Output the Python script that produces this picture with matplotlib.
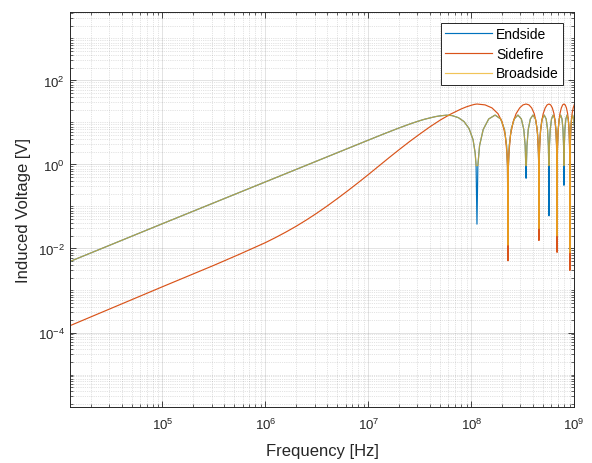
import numpy as np
import matplotlib
matplotlib.use("Agg")
import matplotlib.pyplot as plt
from matplotlib.ticker import LogLocator, NullFormatter

plt.rcParams['font.family'] = ['Liberation Sans', 'DejaVu Sans']

# frequency grid (MHz) shared by Endside / Broadside
es_freq_mhz = [
    0.0126, 0.1, 1, 10, 14, 20, 25, 30, 35, 40, 45, 50, 57.5, 65, 75, 85, 95, 104, 109, 111.3,
    113.5, 115.8, 120.3, 130.5, 147.6, 170.3, 193.0, 210.0, 220.2, 224.7,
    227.0, 229.3, 233.8, 244.0, 261.1, 283.8, 306.5, 323.5, 333.7, 338.2,
    340.5, 342.8, 347.3, 357.5, 374.6, 397.3, 420.0, 437.0, 447.2, 451.7,
    454.0, 456.3, 460.8, 471.0, 488.1, 510.8, 533.5, 550.5, 560.7, 565.2,
    567.5, 569.8, 574.3, 584.5, 601.6, 624.3, 647.0, 664.0, 674.2, 678.7,
    681.0, 683.3, 687.8, 698.0, 715.1, 737.8, 760.5, 777.5, 787.7, 792.2,
    794.5, 796.8, 801.3, 811.5, 828.6, 851.3, 874.0, 891.0, 901.2, 905.7,
    908.0, 910.3, 914.8, 925.0, 942.1, 964.8, 987.5, 1000.0,
]
endside_v = [
    4.9e-3, 3.9e-2, 0.385, 3.80, 5.3, 7.45, 9.1, 10.6, 11.9, 12.9, 13.8, 14.4, 14.9, 14.6, 13.0, 10.5, 7.2, 3.9, 1.88, 0.94,
    0.038, 0.94, 2.81, 6.81, 12.1, 15.0, 12.1, 6.81, 2.81, 0.94,
    0.012, 0.94, 2.81, 6.81, 12.1, 15.0, 12.1, 6.81, 2.81, 0.94,
    0.47, 0.94, 2.81, 6.81, 12.1, 15.0, 12.1, 6.81, 2.81, 0.94,
    0.03, 0.94, 2.81, 6.81, 12.1, 15.0, 12.1, 6.81, 2.81, 0.94,
    0.06, 0.94, 2.81, 6.81, 12.1, 15.0, 12.1, 6.81, 2.81, 0.94,
    0.02, 0.94, 2.81, 6.81, 12.1, 15.0, 12.1, 6.81, 2.81, 0.94,
    0.32, 0.94, 2.81, 6.81, 12.1, 15.0, 12.1, 6.81, 2.81, 0.94,
    0.008, 0.94, 2.81, 6.81, 12.1, 15.0, 12.1, 8.43,
]
broadside_v = [
    4.9e-3, 3.9e-2, 0.385, 3.80, 5.3, 7.45, 9.1, 10.6, 11.9, 12.9, 13.8, 14.4, 14.9, 14.6, 13.0, 10.5, 7.2, 3.9, 1.88, 0.94,
    0.94, 0.94, 2.81, 6.81, 12.1, 15.0, 12.1, 6.81, 2.81, 0.94,
    0.012, 0.94, 2.81, 6.81, 12.1, 15.0, 12.1, 6.81, 2.81, 0.94,
    0.94, 0.94, 2.81, 6.81, 12.1, 15.0, 12.1, 6.81, 2.81, 0.94,
    0.03, 0.94, 2.81, 6.81, 12.1, 15.0, 12.1, 6.81, 2.81, 0.94,
    0.94, 0.94, 2.81, 6.81, 12.1, 15.0, 12.1, 6.81, 2.81, 0.94,
    0.02, 0.94, 2.81, 6.81, 12.1, 15.0, 12.1, 6.81, 2.81, 0.94,
    0.94, 0.94, 2.81, 6.81, 12.1, 15.0, 12.1, 6.81, 2.81, 0.94,
    0.008, 0.94, 2.81, 6.81, 12.1, 15.0, 12.1, 8.43,
]

sf_freq_mhz = [
    0.0126, 0.1, 0.316, 0.562, 1.0, 1.259, 1.585, 1.995, 2.512, 3.162, 3.981, 5.012, 6.310, 7.943,
    10.0, 12.59, 15.85, 19.95, 25.12, 31.62, 39.81, 50.12, 63.10, 79.43, 89.13, 100.0, 107.2, 113.5,
    136.2, 158.9, 181.6, 198.6, 213.4, 222.5, 224.7, 227.0, 229.3, 231.5, 240.6, 255.4, 272.4, 295.1, 317.8,
    340.5, 363.2, 385.9, 408.6, 425.6, 440.4, 449.5, 451.7, 454.0, 456.3, 458.5, 467.6, 482.4, 499.4, 522.1, 544.8,
    567.5, 590.2, 612.9, 635.6, 652.6, 667.4, 676.5, 678.7, 681.0, 683.3, 685.5, 694.6, 709.4, 726.4, 749.1, 771.8,
    794.5, 817.2, 839.9, 862.6, 879.6, 894.4, 903.5, 905.7, 908.0, 910.3, 912.5, 921.6, 936.4, 953.4, 976.1, 1000.0,
]
sidefire_v = [
    1.45e-4, 1.23e-3, 3.98e-3, 7.33e-3, 0.0138, 0.0183, 0.0247, 0.0340, 0.0481, 0.0695, 0.1028, 0.155, 0.237, 0.367,
    0.575, 0.912, 1.445, 2.265, 3.51, 5.31, 7.94, 11.48, 15.85, 20.89, 23.44, 25.70, 26.92, 27.5,
    26.2, 22.2, 16.2, 10.5, 5.16, 1.73, 0.864, 0.0051, 0.864, 1.73, 5.16, 10.5, 16.2, 22.2, 26.2,
    27.5, 26.2, 22.2, 16.2, 10.5, 5.16, 1.73, 0.864, 0.0155, 0.864, 1.73, 5.16, 10.5, 16.2, 22.2, 26.2,
    27.5, 26.2, 22.2, 16.2, 10.5, 5.16, 1.73, 0.864, 0.0081, 0.864, 1.73, 5.16, 10.5, 16.2, 22.2, 26.2,
    27.5, 26.2, 22.2, 16.2, 10.5, 5.16, 1.73, 0.864, 0.0030, 0.864, 1.73, 5.16, 10.5, 16.2, 22.2, 26.4,
]

es_freq = np.array(es_freq_mhz) * 1e6
sf_freq = np.array(sf_freq_mhz) * 1e6

fig = plt.figure(figsize=(5.92, 4.64), dpi=100)
ax = fig.add_axes([0.118, 0.121, 0.852, 0.851])

ax.loglog(es_freq, endside_v, color="#0072BD", linewidth=0.85, label="Endside")
ax.loglog(sf_freq, sidefire_v, color="#D95319", linewidth=0.85, label="Sidefire")
ax.loglog(es_freq, broadside_v, color="#EDB120", linewidth=0.85, alpha=0.75, label="Broadside")

ax.set_xlim(10 ** 4.1, 1e9)
ax.set_ylim(10 ** -5.77, 10 ** 3.63)
ax.set_yticks([1e-4, 1e-2, 1, 1e2])
ax.yaxis.set_minor_locator(LogLocator(base=10, subs=np.arange(1, 10), numticks=100))
ax.yaxis.set_minor_formatter(NullFormatter())
ax.xaxis.set_minor_locator(LogLocator(base=10, subs=np.arange(2, 10), numticks=100))
ax.xaxis.set_minor_formatter(NullFormatter())

dark = "#262626"
ax.grid(True, which="major", color=dark, alpha=0.15, linewidth=0.6, linestyle="-")
ax.grid(True, which="minor", color=dark, alpha=0.25, linewidth=0.5, linestyle=":")
ax.set_axisbelow(True)
for s in ax.spines.values():
    s.set_color(dark)
    s.set_linewidth(0.7)
ax.tick_params(which="both", direction="in", top=True, right=True, colors=dark, labelsize=9.5)
ax.tick_params(which="major", length=4, width=0.6)
ax.tick_params(which="minor", length=2.5, width=0.5)
ax.tick_params(axis="x", which="major", pad=7)

ax.set_xlabel("Frequency [Hz]", fontsize=12, color=dark, labelpad=8)
ax.set_ylabel("Induced Voltage [V]", fontsize=12, color=dark, labelpad=5)

leg = ax.legend(loc="upper right", fontsize=10, fancybox=False, framealpha=1,
                edgecolor=dark, handlelength=3.4, handletextpad=0.3,
                labelspacing=0.4, borderpad=0.3, borderaxespad=0.8)
leg.get_frame().set_linewidth(0.7)

fig.savefig("out.png", dpi=100)
